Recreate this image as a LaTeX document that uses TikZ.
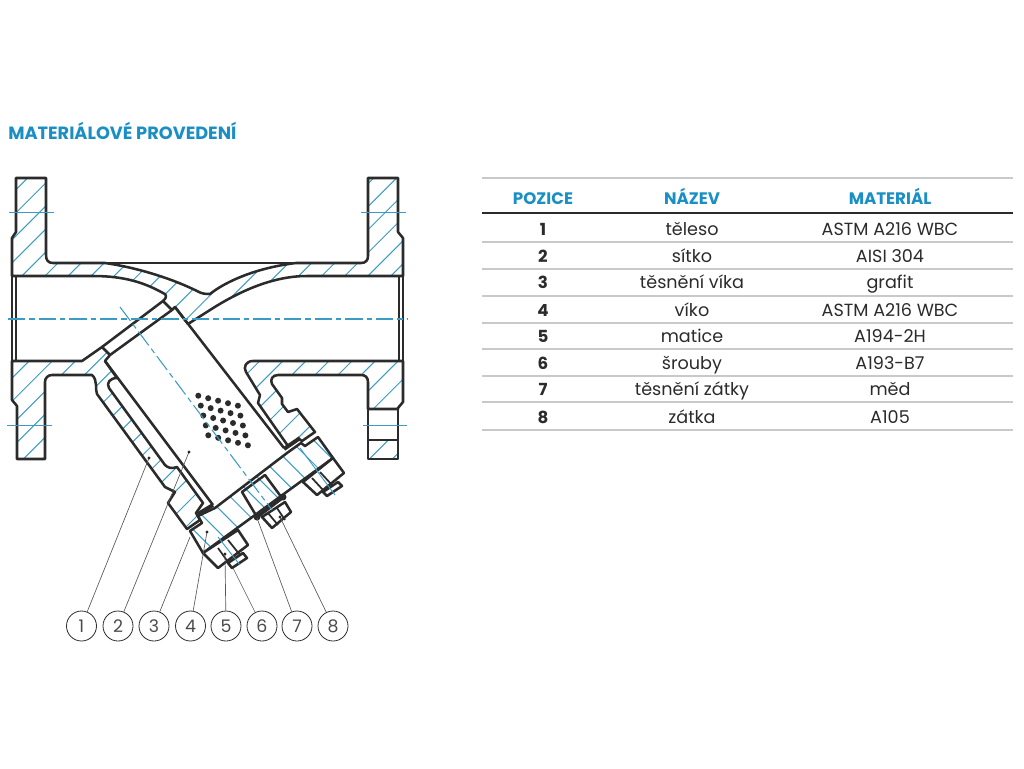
\documentclass[tikz,border=0pt]{standalone}
\usepackage{fontspec}
\setmainfont{Poppins}
\usetikzlibrary{positioning}
\definecolor{dark}{HTML}{2B2B2B}
\definecolor{cyanblue}{HTML}{1A8FC6}
\definecolor{hatchblue}{HTML}{3A9CC4}
\definecolor{rulegray}{HTML}{C9C9C9}
\tikzset{outline/.style={draw=dark,line width=1.9pt,line join=round},
	thinline/.style={draw=dark,line width=1.3pt,line join=round},
	hatchline/.style={draw=hatchblue,line width=.75pt},
	axisline/.style={draw=hatchblue,line width=.8pt,dash pattern=on 13pt off 3pt on 4pt off 3pt},
	boltline/.style={draw=hatchblue,line width=.7pt},
	leader/.style={draw=black!65,line width=.5pt},
	tagcircle/.style={circle,draw=dark,line width=.6pt,minimum size=22.5pt,inner sep=0pt,font=\fontsize{13}{14}\selectfont,text=dark!85},
	tagdot/.style={circle,fill=dark,inner sep=0pt,minimum size=2.4pt},
	headcell/.style={anchor=base,font=\bfseries\fontsize{12.5}{14}\selectfont,text=cyanblue},
	cell/.style={anchor=base,font=\fontsize{13.2}{15}\selectfont,text=dark},
	numcell/.style={anchor=base,font=\bfseries\fontsize{12.5}{14}\selectfont,text=dark}}
\newcommand\hatchfwd[1]{\begin{scope}\clip #1;
	\foreach \k in {-14,...,30}{\pgfmathsetmacro\hs{321+23.06*\k}
		\draw[hatchline] (\hs-100,100) -- (\hs-700,700);}
	\end{scope}}
\newcommand\hatchback[1]{\begin{scope}\clip #1;
	\foreach \k in {-8,...,2}{\pgfmathsetmacro\hs{-173.3+23.3*\k}
		\draw[hatchline] (\hs+100,100) -- (\hs+700,700);}
	\end{scope}}
\def\bodytop{(16,178) -- (46,178) -- (46,255) .. controls (46,260) and (48,263) .. (53,263) -- (105,263) .. controls (140,268) and (175,280) .. (197,291) .. controls (202,294) and (206,294) .. (210,294) .. controls (225,282) and (255,268) .. (296,263) -- (361,263) .. controls (366,263) and (368,260) .. (368,256) -- (368,178) -- (398,178) -- (398,232) -- (403,238) -- (403,276) -- (307,276) .. controls (270,276) and (235,294) .. (210,310) -- (188,324) -- (175,307) -- (172,310) -- (163,301) .. controls (167,298) and (167,294) .. (163,293) .. controls (145,283) and (125,276) .. (93,276) -- (12,276) -- (12,238) -- (16,232) -- cycle}
\def\bodyleft{(12,361) -- (82,361) -- (102,347) -- (110,355) -- (105,361) -- (117,378) .. controls (110,378) and (106,383) .. (109,388) -- (165,465) .. controls (168,468) and (172,469) .. (177,467) -- (203,503) -- (196,513) -- (200,520) -- (187,529) -- (168,503) -- (175,492) -- (165,487) -- (97,394) .. controls (95,390) and (98,380) .. (92,375) -- (52,375) .. controls (48,375) and (45,378) .. (45,382) -- (45,459) -- (17,459) -- (17,406) -- (12,400) -- cycle}
\def\bodyright{(253,361) -- (403,361) -- (403,402) -- (398,408) -- (398,409) -- (368,409) -- (368,382) .. controls (368,377) and (365,375) .. (361,375) -- (278,375) .. controls (272,375) and (270,380) .. (272,384) -- (282,398) -- (282,404) -- (288,412) -- (297,409) -- (315,432) -- (302,441) -- (299,439) -- (288,446) -- (258,403) -- (260,395) -- (246,372) .. controls (243,367) and (246,361) .. (253,361) -- cycle}
\def\flangefoot{(368,440) rectangle (398,459)}
\def\coverpart{(215,508) -- (287,453) -- (301,443) -- (305,446) -- (318,437) -- (333,458) -- (203,553) -- (190,531) -- (202,523) -- (198,516) -- cycle}
\begin{document}
\begin{tikzpicture}[x=.75pt,y=-.75pt]
	\useasboundingbox (0,0) rectangle (1024,768);

	\node[anchor=base west,inner sep=0pt,font=\bfseries\fontsize{13.3}{15}\selectfont,text=cyanblue] (title) at (8,139) {MATERIÁLOVÉ PROVEDENÍ};

	\hatchfwd{\bodytop}
	\hatchfwd{\bodyleft}
	\hatchfwd{\bodyright}
	\hatchfwd{\flangefoot}
	\hatchback{\coverpart}

	\draw[outline] \bodytop;
	\draw[outline] \bodyleft;
	\draw[outline] \bodyright;
	\draw[outline] \flangefoot;
	\draw[outline] (368,409) -- (368,440) (398,409) -- (398,440);
	\draw[outline] \coverpart;

	\draw[outline] (53,263) -- (361,263);
	\draw[outline] (16,276) -- (16,361) (12,276) -- (12,361);
	\draw[outline] (399,276) -- (399,361) (403,276) -- (403,361);

	\draw[outline] (163,301) -- (102,347) (172,310) -- (110,355);
	\draw[outline] (175,307) -- (284,448);
	\draw[outline] (105,361) -- (213,505);

	\draw[dark,line width=3pt] (198,514) -- (213,505);
	\draw[dark,line width=3pt] (284,449) -- (300,438);

	\draw[outline] (242,492) -- (265,475) -- (282,498) -- (257,517) -- cycle;
	\draw[dark,line width=2.6pt] (257,517) -- (282,498);
	\fill[dark] (257,517) circle (3.5) (283,497) circle (3.5);

	\draw[outline,fill=white] (262,517) -- (272,528) -- (291,512) -- (285,502) -- cycle;
	\draw[thinline] (268,513) -- (278,525) (277,508) -- (285,520);

	\draw[outline,fill=white] (203,553) -- (218,568) -- (248,545) -- (238,530) -- cycle;
	\draw[thinline] (218,548) -- (228,562) (228,540) -- (240,555);
	\draw[outline,fill=white] (228,563) -- (232,568) -- (247,558) -- (243,553) -- cycle;

	\draw[outline,fill=white] (303,482) -- (317,495) -- (344,473) -- (333,458) -- cycle;
	\draw[thinline] (312,478) -- (323,490) (320,472) -- (332,485);
	\draw[outline,fill=white] (323,492) -- (327,496) -- (342,486) -- (338,482) -- cycle;

	\draw[boltline] (218,537) -- (240,565);
	\draw[boltline] (300,448) -- (335,495);

	\foreach \k in {0,...,4}{
		\foreach \m in {0,...,4}{
			\fill[dark] ({198.3+9.9*\m+2.5*\k},{395.7+2.5*\m+9.9*\k}) circle (3);
		}
	}

	\draw[axisline] (8,319) -- (407,319);
	\draw[axisline] (120,307) -- (272,510);
	\draw[boltline] (9,212) -- (54,212);
	\draw[boltline] (361,212) -- (406,212);
	\draw[boltline] (7,425) -- (52,425);
	\draw[boltline] (363,425) -- (407,425);

	\foreach \n/\x in {1/81.5,2/118,3/154,4/190.5,5/226,6/262,7/297,8/333}{
		\node[tagcircle] (tag\n) at (\x,626) {\n};
	}
	\coordinate (end1) at (149,458);
	\coordinate (end2) at (189,452);
	\coordinate (end3) at (190,537);
	\coordinate (end4) at (207,532);
	\coordinate (end5) at (225,554);
	\coordinate (end6) at (233,568);
	\coordinate (end7) at (257,518);
	\coordinate (end8) at (280,517);
	\foreach \n in {1,...,8}{
		\draw[leader] (tag\n) -- (end\n);
	}
	\foreach \n in {1,2,4,5,8}{
		\node[tagdot] (dot\n) at (end\n) {};
	}

	\draw[rulegray,line width=1.2pt] (482,178) -- (1013,178);
	\foreach \y in {242,269,296,323,349,376,402,430}{
		\draw[rulegray,line width=1.2pt] (482,\y) -- (1013,\y);
	}
	\draw[dark,line width=1.5pt] (482,213) -- (1013,213);

	\node[headcell] (headpos) at (543,204) {POZICE};
	\node[headcell] (headname) at (692,204) {NÁZEV};
	\node[headcell] (headmat) at (890,204) {MATERIÁL};

	\foreach \n/\y/\nazev/\mat in {1/235/těleso/ASTM A216 WBC,2/262/sítko/AISI 304,3/288/těsnění víka/grafit,4/316/víko/ASTM A216 WBC,5/342/matice/A194-2H,6/369/šrouby/A193-B7,7/395/těsnění zátky/měd,8/423/zátka/A105}{
		\node[numcell] (pos\n) at (543,\y) {\n};
		\node[cell] (name\n) at (692,\y) {\nazev};
		\node[cell] (mat\n) at (890,\y) {\mat};
	}
\end{tikzpicture}
\end{document}
